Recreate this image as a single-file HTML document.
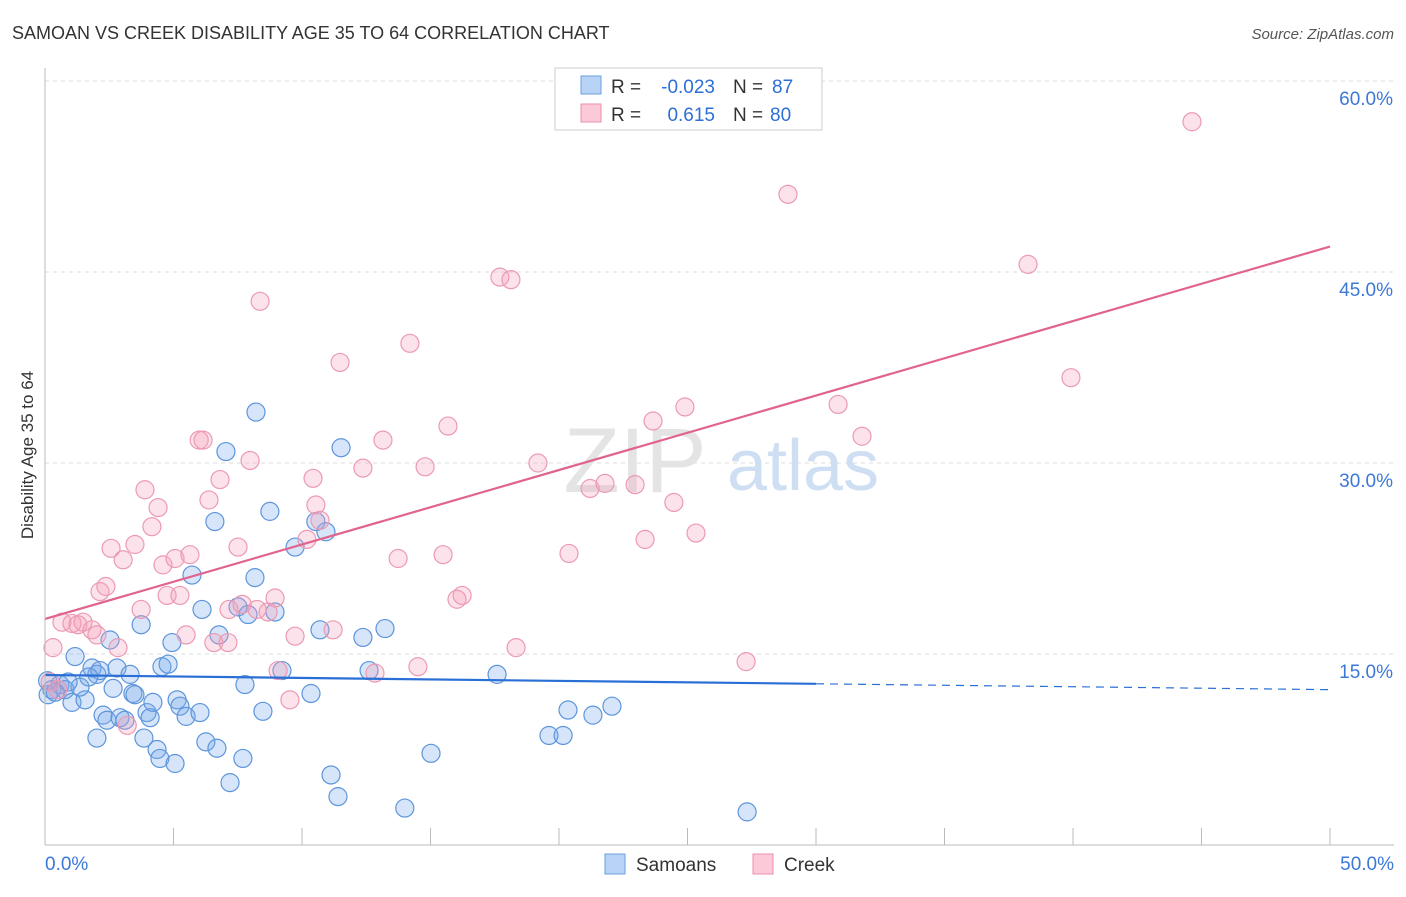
<!DOCTYPE html>
<html><head><meta charset="utf-8"><style>
body{margin:0;background:#fff;font-family:"Liberation Sans",sans-serif}
svg text{font-family:"Liberation Sans",sans-serif}
</style></head><body>
<svg width="1406" height="892" xmlns="http://www.w3.org/2000/svg">
<text x="12" y="39" font-size="18" fill="#333">SAMOAN VS CREEK DISABILITY AGE 35 TO 64 CORRELATION CHART</text>
<text x="1394" y="39" font-size="15" fill="#555" font-style="italic" text-anchor="end">Source: ZipAtlas.com</text>
<g id="grid"></g>
<g id="wm"><text x="635" y="492" font-size="92" fill="#e4e4e4" font-family="Liberation Serif" text-anchor="middle">ZIP</text><text x="803" y="490" font-size="72" fill="#cfdff3" text-anchor="middle">atlas</text></g>
<g id="pts"></g>
<g id="lines"></g>
<g id="axes"></g>
<text transform="translate(33,455) rotate(-90)" font-size="17" fill="#333" text-anchor="middle">Disability Age 35 to 64</text>
<g>
<rect x="555" y="68" width="267" height="62" fill="#fff" stroke="#ccc"/>
<rect x="581" y="76" width="20" height="18" fill="#b8d3f5" stroke="#6a9fe0"/>
<rect x="581" y="104" width="20" height="18" fill="#fcc9d8" stroke="#ea8fab"/>
<text x="611" y="93" font-size="19" fill="#333">R =</text>
<text x="715" y="93" font-size="19" fill="#2d6fd6" text-anchor="end">-0.023</text>
<text x="733" y="93" font-size="19" fill="#333">N =</text>
<text x="772" y="93" font-size="19" fill="#2d6fd6">87</text>
<text x="611" y="121" font-size="19" fill="#333">R =</text>
<text x="715" y="121" font-size="19" fill="#2d6fd6" text-anchor="end">0.615</text>
<text x="733" y="121" font-size="19" fill="#333">N =</text>
<text x="770" y="121" font-size="19" fill="#2d6fd6">80</text>
</g>
<g>
<rect x="605" y="854" width="20" height="20" fill="#b8d3f5" stroke="#6a9fe0"/>
<text x="636" y="871" font-size="19" fill="#333">Samoans</text>
<rect x="753" y="854" width="20" height="20" fill="#fcc9d8" stroke="#ea8fab"/>
<text x="784" y="871" font-size="19" fill="#333">Creek</text>
</g>
</svg>
<script>
const xTicks=[0,5,10,15,20,25,30,35,40,45,50];
const yGrid=[15,30,45,60];
const yLabels=["15.0%","30.0%","45.0%","60.0%"];
const samoanX=[0.27,0.58,0.12,0.78,1.17,1.05,1.56,1.83,2.02,2.14,1.36,2.53,2.65,2.8,2.02,2.26,2.41,2.92,3.11,3.31,3.42,3.5,3.74,3.85,3.97,4.09,4.2,4.36,4.47,4.55,4.79,4.94,5.06,5.14,5.25,5.49,5.72,6.03,6.11,6.26,6.61,6.69,6.77,7.04,7.2,7.51,7.7,7.78,7.9,8.17,8.21,8.48,8.75,8.95,9.22,9.73,10.35,10.54,10.7,10.93,11.13,11.4,11.52,12.37,12.61,13.23,14.0,15.02,17.59,19.61,20.16,20.35,21.32,22.06,27.32,0.1,0.4,0.9,1.7];
const samoanY=[12.2,12.6,11.8,12.2,14.8,11.2,11.4,13.9,13.4,13.7,12.4,16.1,12.3,13.9,8.4,10.2,9.8,10.0,9.8,13.4,11.9,11.8,17.3,8.4,10.4,10.0,11.2,7.5,6.8,14.0,14.2,15.9,6.4,11.4,10.9,10.1,21.2,10.4,18.5,8.1,25.4,7.6,16.5,30.9,4.9,18.7,6.8,12.6,18.1,21.0,34.0,10.5,26.2,18.3,13.7,23.4,11.9,25.4,16.9,24.6,5.5,3.8,31.2,16.3,13.7,17.0,2.9,7.2,13.4,8.6,8.6,10.6,10.2,10.9,2.6,12.9,12.0,12.8,13.2];
const creekX=[0.31,0.66,1.05,1.28,1.48,1.83,2.02,2.14,2.37,2.57,2.84,3.04,3.5,3.74,3.89,4.16,4.4,4.59,4.75,5.06,5.25,5.49,5.64,6.0,6.15,6.38,6.57,6.81,7.12,7.16,7.51,7.67,7.98,8.25,8.37,8.68,8.95,9.07,9.53,9.73,10.19,10.43,10.54,10.7,11.21,11.48,12.37,12.84,13.15,13.74,14.2,14.51,14.79,15.49,15.68,16.03,16.23,17.7,18.13,18.33,19.18,20.39,21.21,21.79,22.96,23.35,23.66,24.47,24.9,25.33,27.28,28.91,30.86,31.79,38.25,39.92,44.63,0.2,3.2,0.5];
const creekY=[15.5,17.5,17.4,17.3,17.5,16.9,16.5,19.9,20.3,23.3,15.5,22.4,23.6,18.5,27.9,25.0,26.5,22.0,19.6,22.5,19.6,16.5,22.8,31.8,31.8,27.1,15.9,28.7,15.9,18.5,23.4,18.9,30.2,18.5,42.7,18.3,19.4,13.7,11.4,16.4,24.0,28.8,26.7,25.5,16.9,37.9,29.6,13.5,31.8,22.5,39.4,14.0,29.7,22.8,32.9,19.3,19.6,44.6,44.4,15.5,30.0,22.9,28.0,28.4,28.3,24.0,33.3,26.9,34.4,24.5,14.4,51.1,34.6,32.1,45.6,36.7,56.8,12.8,9.4,12.2];
const creekTrend=[17.75,47.0];
const samoanTrend=[13.35,12.2];
const NS="http://www.w3.org/2000/svg";
const sx=v=>45+v*25.7, sy=v=>845-v*12.733;
function mk(t,a,p){const e=document.createElementNS(NS,t);for(const k in a)e.setAttribute(k,a[k]);p.appendChild(e);return e;}
const grid=document.getElementById('grid'),axes=document.getElementById('axes'),pts=document.getElementById('pts'),lines=document.getElementById('lines');
yGrid.forEach((v,i)=>{
 const l=mk('line',{x1:45,x2:1394,y1:sy(v),y2:sy(v),stroke:'#ddd','stroke-dasharray':'4,4'},grid);
 
 
 const t=mk('text',{x:1393,y:sy(v)+24,'font-size':19,fill:'#3b78d8','text-anchor':'end'},grid);t.textContent=yLabels[i];
 
 
});
mk('line',{x1:45,x2:45,y1:68,y2:845,stroke:'#bbb'},axes);
mk('line',{x1:45,x2:1394,y1:845,y2:845,stroke:'#bbb'},axes);
xTicks.forEach(v=>{const l=mk('line',{x1:sx(v),x2:sx(v),y1:828,y2:845,stroke:'#bbb'},axes);
 
 });
[[0,"0.0%","start",45],[50,"50.0%","end",1394]].forEach(a=>{const t=mk('text',{x:a[3],y:870,'font-size':19,fill:'#3b78d8','text-anchor':a[2]},axes);t.textContent=a[1];
 
 });
samoanX.forEach((x,i)=>{const c=mk('circle',{cx:sx(x),cy:sy(samoanY[i]),r:9,fill:'rgba(120,170,235,0.3)',stroke:'#5d95dc','stroke-width':1.2},pts);
 
 });
creekX.forEach((x,i)=>{const c=mk('circle',{cx:sx(x),cy:sy(creekY[i]),r:9,fill:'rgba(245,160,185,0.3)',stroke:'#ec9ab3','stroke-width':1.2},pts);
 
 });
const cl=mk('line',{x1:sx(0),y1:sy(creekTrend[0]),x2:sx(50),y2:sy(creekTrend[1]),stroke:'#e0648d','stroke-width':2.2},lines);


const sAt=v=>samoanTrend[0]+(samoanTrend[1]-samoanTrend[0])*v/50;
const sl=mk('line',{x1:sx(0),y1:sy(sAt(0)),x2:sx(30),y2:sy(sAt(30)),stroke:'#2a6fd6','stroke-width':2.2},lines);


const sd=mk('line',{x1:sx(30),y1:sy(sAt(30)),x2:sx(50),y2:sy(sAt(50)),stroke:'#2a6fd6','stroke-width':1.2,'stroke-dasharray':'8,6'},lines);


</script>
</body></html>
